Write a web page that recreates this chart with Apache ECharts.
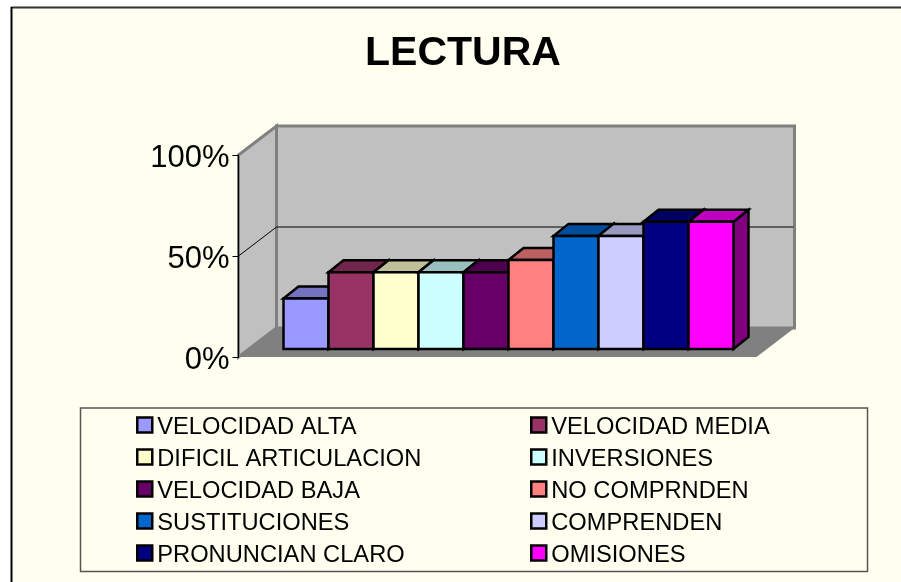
<!DOCTYPE html>
<html>
<head>
<meta charset="utf-8">
<title>LECTURA</title>
<style>
  html, body { margin: 0; padding: 0; background: #FFFFF0; }
  #chart { width: 901px; height: 582px; }
</style>
</head>
<body>
<div id="chart"></div>
<script src="https://cdn.jsdelivr.net/npm/echarts@6/dist/echarts.min.js"></script>
<script>
const categories = [
  'VELOCIDAD ALTA', 'VELOCIDAD MEDIA', 'DIFICIL ARTICULACION', 'INVERSIONES', 'VELOCIDAD BAJA',
  'NO COMPRNDEN', 'SUSTITUCIONES', 'COMPRENDEN', 'PRONUNCIAN CLARO', 'OMISIONES'
]
const values = [0.25, 0.38, 0.38, 0.38, 0.38, 0.44, 0.56, 0.56, 0.63, 0.63]
const colors = ['#9999FF', '#993366', '#FFFFCC', '#CCFFFF', '#660066', '#FF8080', '#0066CC', '#CCCCFF', '#000080', '#FF00FF']
const topColors = ['#7373BF', '#73264D', '#BFBF99', '#99BFBF', '#4D004D', '#BF6060', '#004D99', '#9999BF', '#000060', '#BF00BF']
const sideColors = ['#4D4D80', '#4D1A33', '#808066', '#668080', '#330033', '#804040', '#003366', '#666680', '#000040', '#800080']
const yTicks = [0, 0.5, 1]

const FONT = '"Liberation Sans", Arial, sans-serif'
// 3d depth of the walls and of the bars, in pixels
const WALL_DX = 38
const WALL_DY = 29
const BAR_DX = 15
const BAR_DY = 12

function poly(points, fill, stroke, lineWidth) {
  return {
    type: 'polygon',
    shape: { points: points },
    style: { fill: fill, stroke: stroke || null, lineWidth: lineWidth || 0, lineJoin: 'miter' }
  }
}

function shift(p, dx, dy) {
  return [p[0] + dx, p[1] - dy]
}

// side wall, back wall, floor and the gridline that runs round them
function renderWalls(params, api) {
  const fl = api.coord([0, 0])
  const fr = api.coord([1, 0])
  const tl = api.coord([0, 1])
  const bl = shift(fl, WALL_DX, WALL_DY)
  const br = shift(fr, WALL_DX, WALL_DY)
  const btl = shift(tl, WALL_DX, WALL_DY)
  const btr = [br[0], btl[1]]
  const children = [
    poly([fl, bl, btl, tl], '#C0C0C0', '#808080', 3),
    poly([bl, br, btr, btl], '#C0C0C0', '#808080', 3),
    poly([fl, fr, br, bl], '#808080')
  ]
  yTicks.slice(1, -1).forEach(function (t) {
    const a = api.coord([0, t])
    const b = shift(a, WALL_DX, WALL_DY)
    children.push({
      type: 'polyline',
      shape: { points: [a, b, [br[0] - 1, b[1]]] },
      style: { fill: null, stroke: '#000', lineWidth: 1 }
    })
  })
  return { type: 'group', children: children }
}

function renderBar(index) {
  return function (params, api) {
    const top = api.coord([api.value(0), api.value(1)])
    const base = api.coord([api.value(0), 0])
    const w = api.size([1, 0])[0]
    const x0 = top[0] - w / 2
    const x1 = top[0] + w / 2
    const ftl = [x0, top[1]]
    const ftr = [x1, top[1]]
    const fbr = [x1, base[1]]
    const fbl = [x0, base[1]]
    const border = { stroke: '#000', lineWidth: 2.5 }
    return {
      type: 'group',
      children: [
        poly([ftr, fbr, shift(fbr, BAR_DX, BAR_DY), shift(ftr, BAR_DX, BAR_DY)], sideColors[index], border.stroke, border.lineWidth),
        poly([ftl, ftr, shift(ftr, BAR_DX, BAR_DY), shift(ftl, BAR_DX, BAR_DY)], topColors[index], border.stroke, border.lineWidth),
        poly([ftl, ftr, fbr, fbl], colors[index], border.stroke, border.lineWidth)
      ]
    }
  }
}

const barSeries = categories.map(function (name, i) {
  return {
    name: name,
    type: 'custom',
    xAxisIndex: 1,
    yAxisIndex: 1,
    z: 3 + i,
    itemStyle: { color: colors[i] },
    renderItem: renderBar(i),
    encode: { x: 0, y: 1 },
    data: [[i, values[i]]],
    clip: false
  }
})

const legendBase = {
  orient: 'vertical',
  top: 415,
  padding: 0,
  itemGap: 8,
  itemWidth: 15,
  itemHeight: 15,
  icon: 'rect',
  selectedMode: false,
  itemStyle: { borderColor: '#000', borderWidth: 2.5 },
  formatter: function (name) { return '{t|' + name + '}' },
  textStyle: {
    rich: { t: { fontFamily: FONT, fontSize: 23.7, color: '#000', lineHeight: 28, verticalAlign: 'bottom' } }
  }
}

const chart = echarts.init(document.getElementById('chart'))
chart.setOption({
  animation: false,
  backgroundColor: '#FFFFF0',
  title: {
    text: 'LECTURA',
    left: 463,
    top: 33,
    textAlign: 'center',
    padding: 0,
    textStyle: { fontFamily: FONT, fontSize: 41, fontWeight: 'bold', color: '#000' }
  },
  grid: [
    { left: 238.5, top: 155, width: 518, height: 202 }, // front plane of the box
    { left: 283.5, top: 147, width: 450, height: 202 }  // front plane of the bars
  ],
  xAxis: [
    { type: 'value', gridIndex: 0, min: 0, max: 1, show: false },
    { type: 'category', gridIndex: 1, data: categories, show: false }
  ],
  yAxis: [
    {
      type: 'value',
      gridIndex: 0,
      min: 0,
      max: 1,
      interval: 0.5,
      splitLine: { show: false },
      axisLine: { show: true, lineStyle: { color: '#000', width: 1 } },
      axisTick: { show: true, length: 6, lineStyle: { color: '#000', width: 1 } },
      axisLabel: {
        margin: 9,
        formatter: function (v) { return '{t|' + Math.round(v * 100) + '%}' },
        rich: { t: { fontFamily: FONT, fontSize: 31, color: '#000', padding: [6, 0, 0, 0] } }
      }
    },
    { type: 'value', gridIndex: 1, min: 0, max: 1, show: false }
  ],
  legend: [
    Object.assign({}, legendBase, { left: 136, data: categories.filter(function (c, i) { return i % 2 === 0 }) }),
    Object.assign({}, legendBase, { left: 530, data: categories.filter(function (c, i) { return i % 2 === 1 }) })
  ],
  graphic: [
    { type: 'rect', silent: true, z: -10, shape: { x: 0, y: 0, width: 901, height: 7 }, style: { fill: '#fff' } },
    { type: 'rect', silent: true, z: -10, shape: { x: 0, y: 0, width: 11, height: 582 }, style: { fill: '#fff' } },
    { type: 'line', silent: true, z: -9, shape: { x1: 11, y1: 7.5, x2: 901, y2: 7.5 }, style: { stroke: '#333', lineWidth: 2 } },
    { type: 'line', silent: true, z: -9, shape: { x1: 11.5, y1: 7, x2: 11.5, y2: 582 }, style: { stroke: '#000', lineWidth: 2 } },
    { type: 'rect', silent: true, z: -9, shape: { x: 80.5, y: 408, width: 787, height: 163.5 }, style: { fill: null, stroke: '#555', lineWidth: 1.5 } }
  ],
  series: [
    {
      type: 'custom',
      xAxisIndex: 0,
      yAxisIndex: 0,
      z: -1,
      renderItem: renderWalls,
      data: [[0, 0]],
      clip: false
    }
  ].concat(barSeries)
})
</script>
</body>
</html>
